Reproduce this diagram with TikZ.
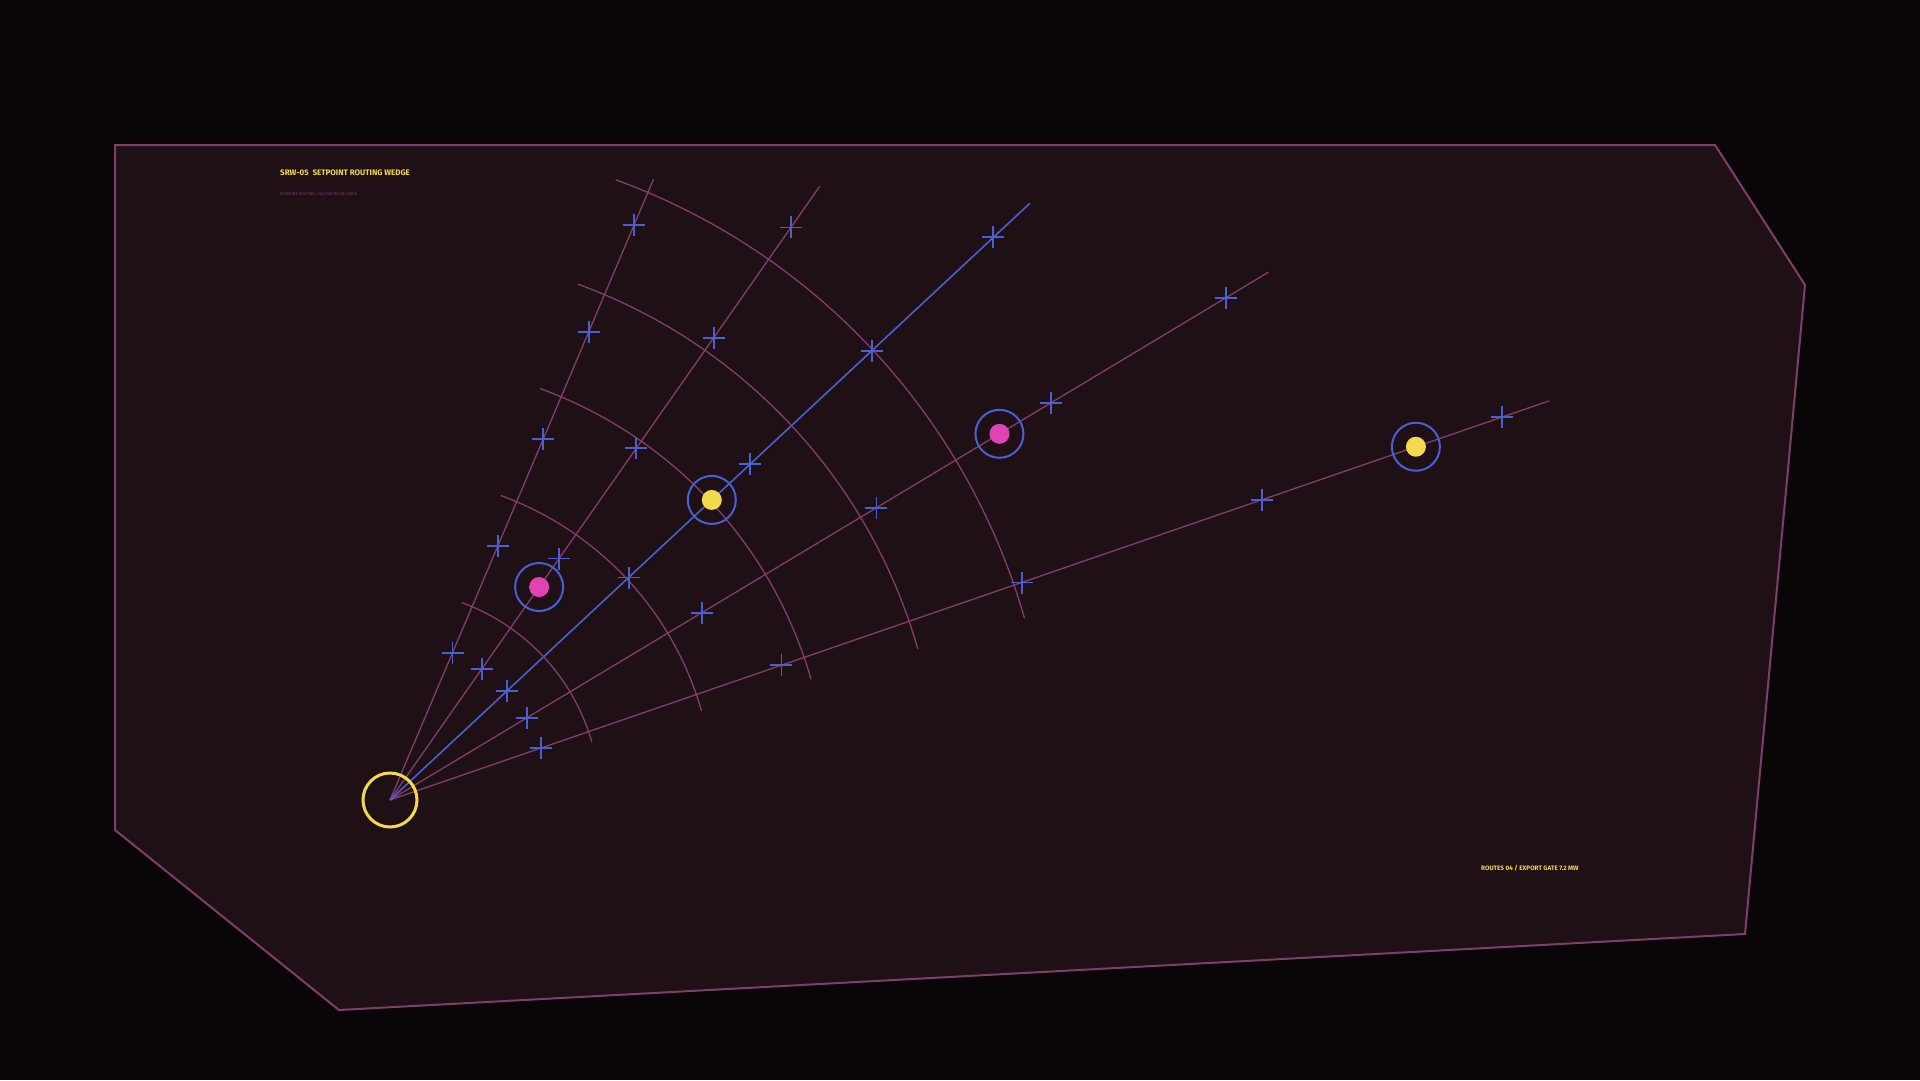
\documentclass[tikz,border=0pt]{standalone}
\usepackage{fontspec}
\setmainfont{Fira Sans}
\usetikzlibrary{calc}
\definecolor{bgout}{HTML}{0A0506}
\definecolor{panel}{HTML}{1F1016}
\definecolor{edge}{HTML}{7E3E6A}
\definecolor{raycol}{HTML}{823E6C}
\definecolor{blu}{HTML}{4A5FD0}
\definecolor{ylw}{HTML}{F2D94E}
\definecolor{mag}{HTML}{E044B4}
\begin{document}
\begin{tikzpicture}[x=1pt,y=1pt,
  panelbox/.style={draw=edge,fill=panel,line width=2pt,line join=miter},
  rayline/.style={draw=raycol,line width=1.3pt},
  blueray/.style={draw=blu,line width=1.6pt},
  arcline/.style={draw=raycol,line width=1.3pt},
  tickline/.style={draw=blu,line width=1.8pt},
  crossmark/.pic={\draw[tickline] (-11,0)--(11,0) (0,-11)--(0,11);},
  ringnode/.style={circle,draw=blu,line width=2pt,minimum size=48pt,inner sep=0pt},
  dotnode/.style={circle,inner sep=0pt,minimum size=20pt},
  hubnode/.style={circle,draw=ylw,line width=3pt,minimum size=54pt,inner sep=0pt},
  titletext/.style={text=ylw,font=\bfseries\fontsize{8}{9}\selectfont,anchor=base west,inner sep=0pt},
  subtext/.style={text=edge,font=\fontsize{4}{5}\selectfont,anchor=west,inner sep=0pt},
  foottext/.style={text=ylw,font=\bfseries\fontsize{6.4}{7}\selectfont,anchor=west,inner sep=0pt}]
\fill[bgout] (0,0) rectangle (1920,-1080);
\useasboundingbox (0,0) rectangle (1920,-1080);
\draw[panelbox] (115,-145) -- (1715,-145) -- (1805,-285) -- (1745,-934) -- (339,-1010) -- (115,-830) -- cycle;
\node[titletext] (title) at (280,-175) {SRW-05\ \ SETPOINT ROUTING WEDGE};
\node[subtext] (sub) at (280,-194) {SETPOINT ROUTING / SECTOR PULSE STACK};
\node[foottext] (foot) at (1481,-868) {ROUTES 04 / EXPORT GATE 7.2 MW};
\begin{scope}[shift={(390,-800)}]
  \coordinate (o) at (0,0);
  \foreach \n/\a/\L in {1/67/674.5,2/55/749,3/43/875,4/31/1025,5/19/1226}{
    \coordinate (e\n) at (\a:\L);
  }
  \draw[rayline] (o) -- (e1);
  \draw[rayline] (o) -- (e2);
  \draw[rayline] (o) -- (e4);
  \draw[rayline] (o) -- (e5);
  \draw[blueray] (o) -- (e3);
  \foreach \r in {210,324,438,549,660}{
    \draw[arcline] (70:\r) arc[start angle=70,end angle=16,radius=\r];
  }
  \foreach \n/\a/\L in {1/67/674.5,2/55/749,3/43/875,4/31/1025,5/19/1226}{
    \pgfmathsetmacro{\s}{(\L-210)/4}
    \foreach \k in {0,...,4}{
      \pgfmathsetmacro{\rr}{160+\k*\s}
      \coordinate (t\n\k) at (\a:\rr);
      \pic at (t\n\k) {crossmark};
    }
  }
  \node[ringnode] (r1) at (55:260) {};
  \node[dotnode,fill=mag] (d1) at (r1.center) {};
  \node[ringnode] (r2) at (43:440) {};
  \node[dotnode,fill=ylw] (d2) at (r2.center) {};
  \node[ringnode] (r3) at (31:711) {};
  \node[dotnode,fill=mag] (d3) at (r3.center) {};
  \node[ringnode] (r4) at (19:1085) {};
  \node[dotnode,fill=ylw] (d4) at (r4.center) {};
  \node[hubnode] (hub) at (o) {};
\end{scope}
\end{tikzpicture}
\end{document}
